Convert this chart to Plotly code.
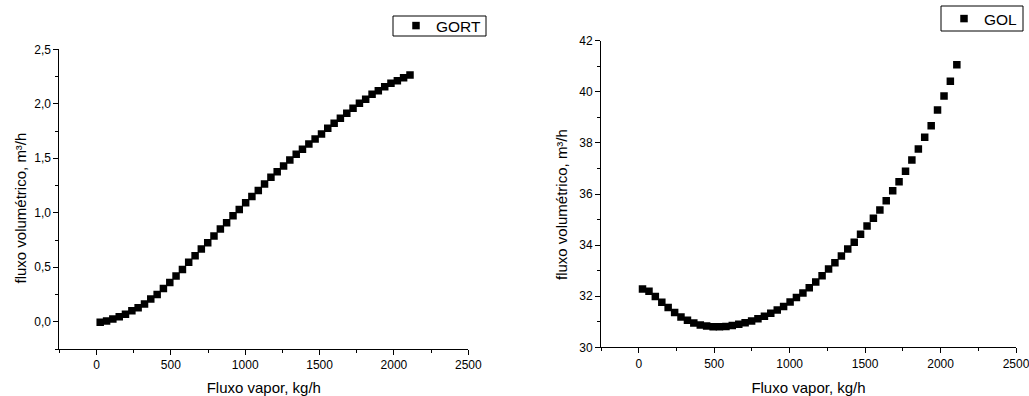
import plotly.graph_objects as go

# ---- data ----
flow_vapor = [25, 68, 110, 153, 195, 238, 280, 323, 365, 408,
              450, 493, 535, 578, 620, 663, 705, 748, 790, 833,
              875, 918, 960, 1003, 1045, 1088, 1130, 1173, 1215, 1258,
              1300, 1343, 1385, 1428, 1470, 1513, 1555, 1598, 1640, 1683,
              1725, 1768, 1810, 1853, 1895, 1938, 1980, 2023, 2065, 2108]

gort_flow = [-0.005, 0.008, 0.025, 0.046, 0.070, 0.100, 0.128, 0.162, 0.208, 0.251,
             0.306, 0.361, 0.419, 0.480, 0.545, 0.606, 0.667, 0.725, 0.787, 0.850,
             0.909, 0.973, 1.031, 1.093, 1.150, 1.205, 1.264, 1.325, 1.377, 1.429,
             1.484, 1.536, 1.582, 1.631, 1.677, 1.723, 1.775, 1.821, 1.867, 1.913,
             1.958, 2.004, 2.041, 2.087, 2.120, 2.157, 2.188, 2.212, 2.240, 2.264]

gol_flow = [32.28, 32.19, 31.99, 31.76, 31.56, 31.36, 31.19, 31.06, 30.95, 30.87,
            30.83, 30.80, 30.80, 30.81, 30.85, 30.90, 30.96, 31.03, 31.12, 31.22,
            31.33, 31.46, 31.60, 31.77, 31.95, 32.13, 32.33, 32.56, 32.80, 33.06,
            33.31, 33.57, 33.85, 34.11, 34.42, 34.75, 35.05, 35.37, 35.74, 36.13,
            36.48, 36.89, 37.33, 37.76, 38.22, 38.67, 39.29, 39.84, 40.41, 41.06]

series_names = ["GORT", "GOL"]
x_title = "Fluxo vapor, kg/h"
y_title = "fluxo volumétrico, m³/h"

FONT = "Liberation Sans, Arial, sans-serif"
W, H = 1029, 396


def px(x):
    return x / W


def py(y):
    return 1 - y / H


fig = go.Figure()
fig.add_trace(go.Scatter(x=flow_vapor, y=gort_flow, mode="markers", name=series_names[0],
                         marker=dict(symbol="square", size=7.5, color="black"),
                         xaxis="x", yaxis="y", legend="legend"))
fig.add_trace(go.Scatter(x=flow_vapor, y=gol_flow, mode="markers", name=series_names[1],
                         marker=dict(symbol="square", size=7.5, color="black"),
                         xaxis="x2", yaxis="y2", legend="legend2"))


def xax(domain, anchor):
    return dict(domain=domain, anchor=anchor, range=[-250, 2500], tick0=0, dtick=500,
                ticks="outside", ticklen=5, tickwidth=1, tickcolor="black",
                minor=dict(ticks="outside", ticklen=3, dtick=250, tickcolor="black"),
                showline=True, linecolor="black", linewidth=1, mirror=False,
                showgrid=False, zeroline=False, tickformat="d", automargin=False,
                ticklabeloverflow="allow",
                tickfont=dict(family=FONT, size=12, color="black"),
                title=dict(text=x_title, font=dict(family=FONT, size=15, color="black"), standoff=14))


def yax(domain, anchor, rng, dtick, mdtick, fmt):
    return dict(domain=domain, anchor=anchor, range=rng, tick0=0, dtick=dtick,
                ticks="outside", ticklen=5, tickwidth=1, tickcolor="black",
                minor=dict(ticks="outside", ticklen=3, dtick=mdtick, tickcolor="black"),
                showline=True, linecolor="black", linewidth=1, mirror=False,
                showgrid=False, zeroline=False, tickformat=fmt, automargin=False,
                ticklabeloverflow="allow",
                tickfont=dict(family=FONT, size=12, color="black"))


legend_style = dict(xanchor="left", yanchor="middle", borderwidth=0,
                    bgcolor="rgba(0,0,0,0)",
                    font=dict(family=FONT, size=15.5, color="black"))

fig.update_layout(
    template="none",
    width=W, height=H,
    margin=dict(l=0, r=0, t=0, b=0, autoexpand=False),
    paper_bgcolor="white", plot_bgcolor="white",
    separators=", ",
    font=dict(family=FONT, color="black"),
    xaxis=xax([px(59.3), px(468.3)], "y"),
    yaxis=yax([py(349), py(49.3)], "x", [-0.25, 2.5], 0.5, 0.25, ".1f"),
    xaxis2=xax([px(601), px(1016)], "y2"),
    yaxis2=yax([py(347.3), py(40.7)], "x2", [30, 42], 2, 1, "d"),
    legend=dict(x=px(396), y=py(26), **legend_style),
    legend2=dict(x=px(944), y=py(19), **legend_style),
    showlegend=True,
    shapes=[
        dict(type="rect", xref="paper", yref="paper", x0=px(393), x1=px(486),
             y0=py(36), y1=py(16), line=dict(color="black", width=1)),
        dict(type="rect", xref="paper", yref="paper", x0=px(941), x1=px(1023),
             y0=py(31), y1=py(6), line=dict(color="black", width=1)),
    ],
    annotations=[
        dict(text=y_title, xref="paper", yref="paper", x=px(19.5), y=py(208),
             xanchor="center", yanchor="middle", textangle=-90, showarrow=False,
             font=dict(family=FONT, size=15, color="black")),
        dict(text=y_title, xref="paper", yref="paper", x=px(562), y=py(205),
             xanchor="center", yanchor="middle", textangle=-90, showarrow=False,
             font=dict(family=FONT, size=15, color="black")),
    ],
)

fig.write_html("out.html")
